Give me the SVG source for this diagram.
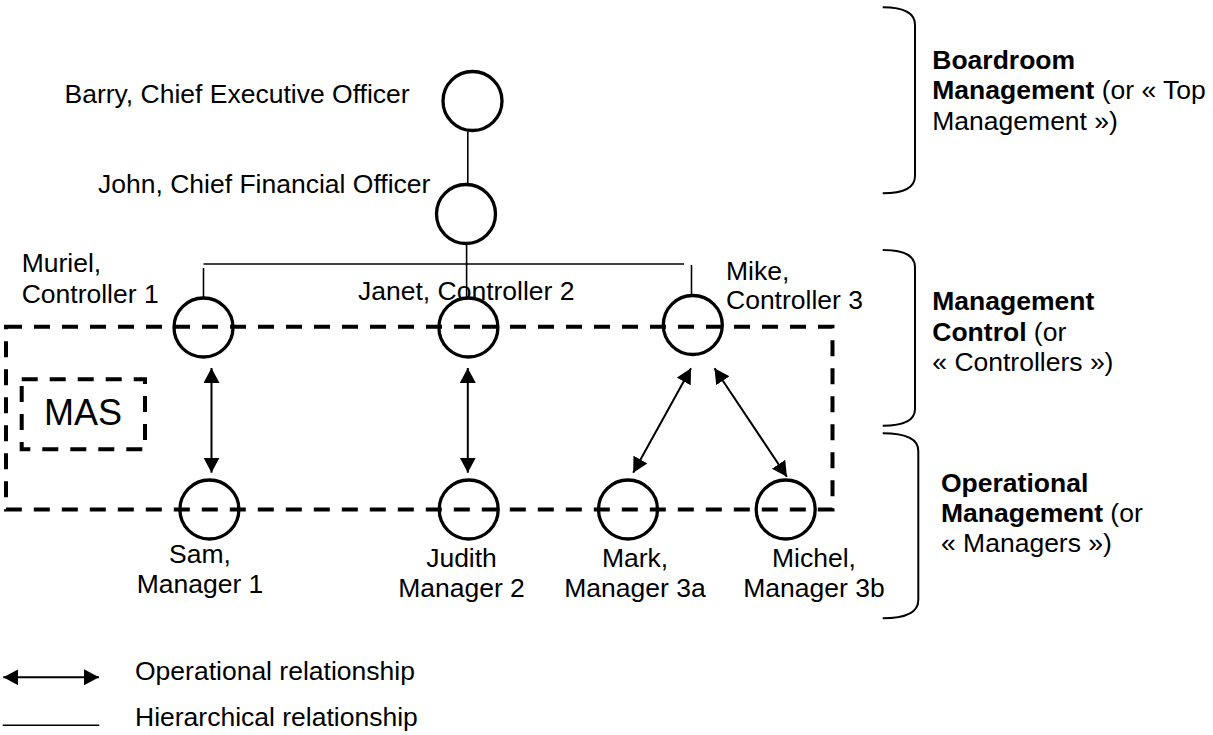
<svg xmlns="http://www.w3.org/2000/svg" width="1213" height="735" viewBox="0 0 1213 735">
<defs>
<style>
text{font-family:"Liberation Sans",Arial,sans-serif;font-size:26.5px;fill:#000}
.b{font-weight:bold}
.m{text-anchor:middle}
.node{fill:none;stroke:#000;stroke-width:3.3}
.hier{stroke:#000;stroke-width:1.6;fill:none}
.op{stroke:#000;stroke-width:2;fill:none;marker-start:url(#ah);marker-end:url(#ah)}
.dash{fill:none;stroke:#000;stroke-width:4;stroke-dasharray:16 12}
.brace{fill:none;stroke:#000;stroke-width:2}
</style>
<marker id="ah" markerUnits="userSpaceOnUse" markerWidth="16" markerHeight="17" refX="15" refY="8" orient="auto-start-reverse">
<path d="M0,0 L15,8 L0,16 Z" fill="#000"/>
</marker>
</defs>
<rect width="1213" height="735" fill="#fff"/>

<g id="area-mas">
<rect class="dash" x="6" y="326.7" width="826.5" height="182.8"/>
<rect class="dash" x="21.7" y="379.3" width="123.3" height="70" stroke-width="3.6"/>
<text x="44" y="425" style="font-size:36px">MAS</text>
</g>

<g id="connectors">
<line class="hier" x1="467.8" y1="131.5" x2="467.8" y2="184"/>
<line class="hier" x1="466.6" y1="244.5" x2="466.6" y2="297"/>
<line class="hier" x1="203.5" y1="264" x2="684" y2="264"/>
<line class="hier" x1="203.5" y1="268" x2="203.5" y2="297"/>
<line class="hier" x1="691.5" y1="265" x2="691.5" y2="294.5"/>
<line class="op" x1="211.5" y1="368" x2="211.5" y2="472.7"/>
<line class="op" x1="467.8" y1="368" x2="467.8" y2="472.7"/>
<line class="op" x1="691" y1="368.3" x2="633.2" y2="472.7"/>
<line class="op" x1="714.5" y1="368.3" x2="786.9" y2="476.7"/>
</g>

<g id="barry">
<circle class="node" cx="472.5" cy="101" r="29.5"/>
<text x="64.5" y="103">Barry, Chief Executive Officer</text>
</g>
<g id="john">
<circle class="node" cx="466" cy="214" r="29.5"/>
<text x="98" y="193">John, Chief Financial Officer</text>
</g>
<g id="muriel">
<circle class="node" cx="203.5" cy="327.5" r="29.5"/>
<text x="21.7" y="272">Muriel,</text>
<text x="21.7" y="302.7">Controller 1</text>
</g>
<g id="janet">
<circle class="node" cx="468.4" cy="327.5" r="29.5"/>
<text x="358" y="300">Janet, Controller 2</text>
</g>
<g id="mike">
<circle class="node" cx="692.8" cy="325" r="29.5"/>
<text x="726" y="279.5">Mike,</text>
<text x="726" y="309">Controller 3</text>
</g>
<g id="sam">
<circle class="node" cx="209.4" cy="509.5" r="29.5"/>
<text class="m" x="200" y="563">Sam,</text>
<text class="m" x="200" y="592.7">Manager 1</text>
</g>
<g id="judith">
<circle class="node" cx="468.7" cy="509.5" r="29.5"/>
<text class="m" x="461.5" y="566.7">Judith</text>
<text class="m" x="461.5" y="596.7">Manager 2</text>
</g>
<g id="mark">
<circle class="node" cx="628" cy="509.5" r="29.5"/>
<text class="m" x="635" y="566.7">Mark,</text>
<text class="m" x="635" y="596.7">Manager 3a</text>
</g>
<g id="michel">
<circle class="node" cx="785.7" cy="509.5" r="29.5"/>
<text class="m" x="814" y="566.7">Michel,</text>
<text class="m" x="814" y="596.7">Manager 3b</text>
</g>

<g id="boardroom-level">
<path class="brace" d="M882.7 7.3 Q915 7.3 915 25 V176 Q915 193.3 882.7 193.3"/>
<text x="932.3" y="68.5" class="b">Boardroom</text>
<text x="932.3" y="99"><tspan class="b">Management</tspan> (or « Top</text>
<text x="932.3" y="129.5">Management »)</text>
</g>
<g id="control-level">
<path class="brace" d="M882.7 250 Q915 250 915 267 V409 Q915 425.7 882.7 425.7"/>
<text x="932.3" y="310" class="b">Management</text>
<text x="932.3" y="340.5"><tspan class="b">Control</tspan> (or</text>
<text x="932.3" y="371">« Controllers »)</text>
</g>
<g id="operational-level">
<path class="brace" d="M882.7 433.3 Q918.3 433.3 918.3 451 V600 Q918.3 618.3 882.7 618.3"/>
<text x="941" y="491.7" class="b">Operational</text>
<text x="941" y="522"><tspan class="b">Management</tspan> (or</text>
<text x="941" y="552.3">« Managers »)</text>
</g>

<g id="legend">
<line class="op" x1="3.3" y1="677.3" x2="99" y2="677.3"/>
<text x="135" y="680">Operational relationship</text>
<line class="hier" x1="2.7" y1="725.3" x2="99.3" y2="725.3" stroke-width="2"/>
<text x="135" y="726">Hierarchical relationship</text>
</g>
</svg>
